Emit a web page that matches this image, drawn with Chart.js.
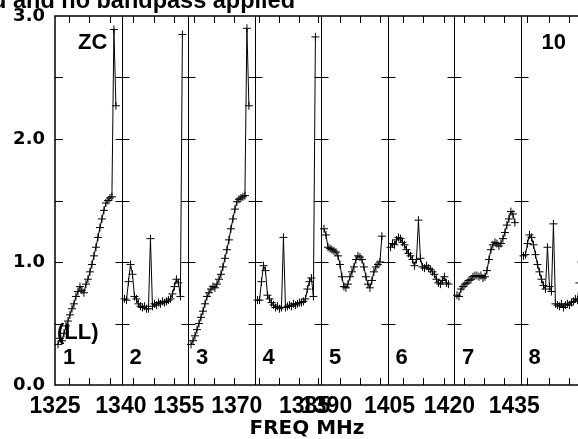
<!DOCTYPE html>
<html lang="en">
<head>
<meta charset="UTF-8">
<title>Bandpass</title>
<script src="https://cdn.jsdelivr.net/npm/chart.js"></script>
<style>
    body {
        margin: 0;
        padding: 0;
        background: #fff;
        overflow: hidden;
        width: 578px;
        height: 439px;
    }
    canvas { display: block; }
</style>
</head>
<body>
<canvas id="bp" width="592" height="439"></canvas>
<script>
// amplitude per channel, one array per IF (30 channels each)
const if1 = [0.33, 0.38, 0.36, 0.42, 0.48, 0.52, 0.57, 0.62, 0.66, 0.72, 0.76, 0.80, 0.77, 0.75, 0.82,
             0.86, 0.92, 0.98, 1.05, 1.12, 1.20, 1.28, 1.35, 1.42, 1.48, 1.50, 1.52, 1.53, 2.89, 2.27];
const if2 = [0.70, 0.69, 0.84, 0.98, 0.90, 0.72, 0.70, 0.66, 0.64, 0.63, 0.64, 0.62, 0.62, 1.19, 0.64,
             0.66, 0.65, 0.67, 0.66, 0.68, 0.67, 0.68, 0.69, 0.70, 0.74, 0.80, 0.86, 0.83, 0.72, 2.85];
const if3 = [0.33, 0.36, 0.40, 0.45, 0.50, 0.55, 0.60, 0.66, 0.72, 0.75, 0.78, 0.80, 0.79, 0.82, 0.86,
             0.90, 0.96, 1.03, 1.10, 1.18, 1.27, 1.35, 1.43, 1.49, 1.51, 1.52, 1.53, 1.54, 2.90, 2.27];
const if4 = [0.69, 0.69, 0.84, 0.97, 0.93, 0.73, 0.70, 0.67, 0.65, 0.63, 0.64, 0.62, 0.63, 1.20, 0.63,
             0.64, 0.65, 0.64, 0.66, 0.65, 0.66, 0.67, 0.67, 0.68, 0.70, 0.78, 0.84, 0.87, 0.72, 2.83];
const if5 = [1.27, 1.22, 1.12, 1.11, 1.10, 1.09, 1.08, 1.05, 0.98, 0.88, 0.80, 0.79, 0.82, 0.88, 0.92,
             0.96, 1.02, 1.05, 1.04, 1.02, 0.96, 0.88, 0.82, 0.79, 0.85, 0.92, 0.96, 0.98, 1.00, 1.21];
const if6 = [1.12, 1.15, 1.14, 1.18, 1.20, 1.19, 1.16, 1.14, 1.10, 1.07, 1.05, 1.02, 0.97, 1.02, 1.34,
             1.03, 0.96, 0.95, 0.97, 0.95, 0.94, 0.92, 0.90, 0.86, 0.83, 0.82, 0.85, 0.88, 0.83, 0.82];
const if7 = [0.73, 0.72, 0.78, 0.80, 0.82, 0.83, 0.85, 0.86, 0.88, 0.89, 0.89, 0.88, 0.89, 0.87, 0.88,
             0.93, 1.02, 1.10, 1.14, 1.16, 1.15, 1.13, 1.15, 1.19, 1.24, 1.30, 1.35, 1.41, 1.39, 1.32];
const if8 = [1.05, 1.06, 1.15, 1.22, 1.20, 1.14, 1.06, 0.98, 0.92, 0.86, 0.81, 0.78, 1.12, 0.80, 0.76,
             1.31, 0.66, 0.65, 0.64, 0.66, 0.63, 0.65, 0.66, 0.65, 0.67, 0.68, 0.70, 0.69, 0.83, 1.00];
const ifs = [if1, if2, if3, if4, if5, if6, if7, if8];
const ifNames = ['1', '2', '3', '4', '5', '6', '7', '8'];

// frequency labels and where they sit on the channel axis
const freqLabels = ['1325', '1340', '1355', '1370', '1385', '1390', '1405', '1420', '1435'];
const freqAt = [0, 33, 62, 91, 125, 136, 167.5, 197.5, 230];
const minorAt = [7, 17, 27.5, 39, 49.5, 59.5, 69.5, 79.5, 89.5, 102, 112, 122, 131.5,
                 142.5, 152.5, 162.5, 174.5, 184.5, 195, 205, 215, 225, 236.5, 247.5, 257.5];
const yLabels = [0, 1, 2, 3];

const PANEL = 33.3;   // channel units per IF panel
const OFF = 1.5;      // first channel offset inside a panel

const datasets = ifs.map((vals, k) => ({
    label: 'IF ' + ifNames[k],
    data: vals.map((v, c) => ({ x: k * PANEL + OFF + c, y: v })),
    borderColor: '#000',
    borderWidth: 1,
    pointStyle: 'cross',
    pointRadius: 4,
    pointBorderColor: '#000',
    pointBorderWidth: 1,
    tension: 0,
    fill: false
}));

const boldSans = 'bold 22px "Liberation Sans", Arial, sans-serif';

const decor = {
    id: 'decor',
    beforeDatasetsDraw(chart) {
        const { ctx, chartArea: a, scales: { x, y } } = chart;
        ctx.save();
        ctx.strokeStyle = '#000';
        ctx.lineWidth = 1;
        ctx.beginPath();
        for (let k = 1; k < ifs.length; k++) {
            const px = Math.round(x.getPixelForValue(k * PANEL)) + 0.5;
            ctx.moveTo(px, a.top);
            ctx.lineTo(px, a.bottom);
            for (let v = 0.5; v < 3; v += 0.5) {
                const py = Math.round(y.getPixelForValue(v)) + 0.5;
                ctx.moveTo(px - 7, py);
                ctx.lineTo(px + 7, py);
            }
        }
        ctx.stroke();
        ctx.restore();
    },
    afterDatasetsDraw(chart) {
        const { ctx, chartArea: a, scales: { x, y } } = chart;
        ctx.save();
        ctx.strokeStyle = '#000';
        ctx.lineWidth = 1.5;
        ctx.strokeRect(a.left, a.top, a.right - a.left, a.bottom - a.top);
        ctx.lineWidth = 1;
        ctx.beginPath();
        for (let v = 0.5; v < 3; v += 0.5) {
            const py = Math.round(y.getPixelForValue(v)) + 0.5;
            ctx.moveTo(a.left, py);
            ctx.lineTo(a.left + 8, py);
        }
        minorAt.forEach(m => {
            const px = Math.round(x.getPixelForValue(m)) + 0.5;
            ctx.moveTo(px, a.bottom);
            ctx.lineTo(px, a.bottom - 7);
            ctx.moveTo(px, a.top);
            ctx.lineTo(px, a.top + 7);
        });
        ctx.stroke();

        ctx.fillStyle = '#000';
        ctx.font = boldSans;
        ctx.textBaseline = 'alphabetic';
        ctx.textAlign = 'left';
        ifNames.forEach((n, k) => {
            ctx.fillText(n, x.getPixelForValue(k * PANEL) + 8, a.bottom - 21);
        });
        ctx.fillText('ZC', a.left + 23, a.top + 33);
        ctx.fillText('(LL)', a.left + 2, a.bottom - 46);
        ctx.textAlign = 'right';
        ctx.fillText('10', a.right - 21, a.top + 33);
        ctx.restore();
    },
    afterDraw(chart) {
        const { ctx } = chart;
        ctx.save();
        ctx.fillStyle = '#000';
        ctx.textAlign = 'right';
        ctx.textBaseline = 'alphabetic';
        ctx.font = 'bold 23.5px "Liberation Sans", Arial, sans-serif';
        ctx.fillText('No calibration applied and no bandpass applied', 295, 8);
        ctx.textAlign = 'center';
        ctx.font = 'bold 20px "DejaVu Sans", sans-serif';
        ctx.fillText('FREQ MHz', 307, 434);
        ctx.restore();
    }
};

new Chart(document.getElementById('bp'), {
    type: 'line',
    data: { datasets },
    options: {
        responsive: false,
        devicePixelRatio: 1,
        animation: false,
        layout: { padding: { top: 16, right: 4, bottom: 0, left: 0 } },
        plugins: { legend: { display: false }, tooltip: { enabled: false } },
        scales: {
            x: {
                type: 'linear',
                min: 0,
                max: ifs.length * PANEL,
                grid: { display: false },
                border: { display: false },
                afterBuildTicks: s => { s.ticks = freqAt.map(v => ({ value: v })); },
                afterFit: s => { s.height = 54; },
                ticks: {
                    autoSkip: false,
                    maxRotation: 0,
                    padding: 0,
                    color: '#000',
                    font: { family: '"Liberation Sans", Arial, sans-serif', size: 23, weight: 'bold' },
                    callback: (v, i) => freqLabels[i]
                }
            },
            y: {
                min: 0,
                max: 3,
                grid: { display: false },
                border: { display: false },
                afterBuildTicks: s => { s.ticks = yLabels.map(v => ({ value: v })); },
                afterFit: s => { s.width = 55; },
                ticks: {
                    padding: 2,
                    color: '#000',
                    font: { family: '"DejaVu Sans", sans-serif', size: 18, weight: 'bold' },
                    callback: v => v.toFixed(1)
                }
            }
        }
    },
    plugins: [decor]
});
</script>
</body>
</html>
